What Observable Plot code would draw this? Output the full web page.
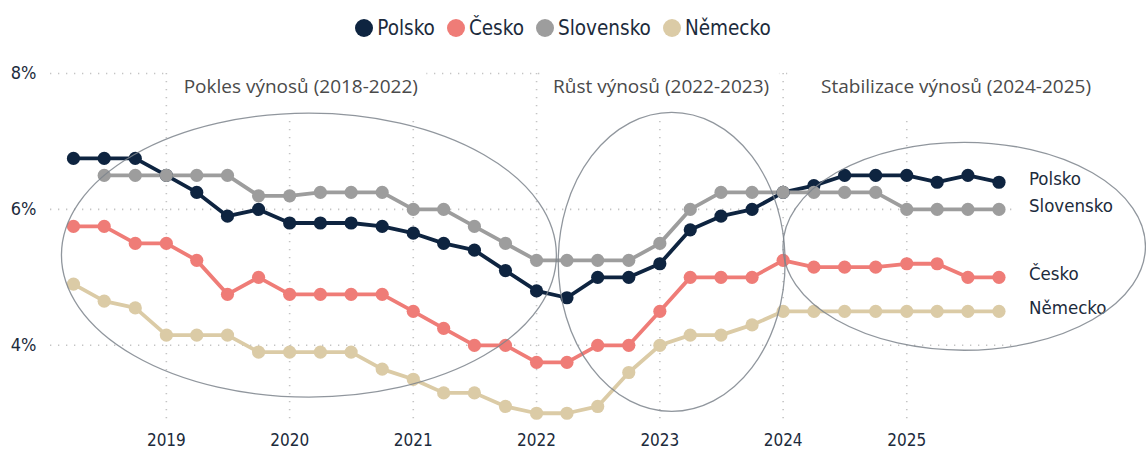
<!DOCTYPE html>
<html>
<head>
<meta charset="utf-8">
<script src="https://cdn.jsdelivr.net/npm/d3@7"></script>
<script src="https://cdn.jsdelivr.net/npm/@observablehq/plot@0.6"></script>
<style>
  html, body { margin: 0; padding: 0; background: #fff; }
  .cond { font-family: "DejaVu Sans Condensed", "DejaVu Sans", sans-serif; font-stretch: condensed; }
  #legend { height: 50px; display: flex; justify-content: center; align-items: center; color: #1c2b3c; font-size: 20.5px; padding-top: 6px; padding-right: 20px; box-sizing: border-box; }
  #legend .item { display: flex; align-items: center; margin: 0 6px; }
  #legend .sw { width: 18px; height: 18px; border-radius: 50%; margin-right: 4px; }
</style>
</head>
<body>
<div id="legend" class="cond"></div>
<div id="chart"></div>
<script>
// ---- data ----
const quarters = [
  "2018-04-01","2018-07-01","2018-10-01",
  "2019-01-01","2019-04-01","2019-07-01","2019-10-01",
  "2020-01-01","2020-04-01","2020-07-01","2020-10-01",
  "2021-01-01","2021-04-01","2021-07-01","2021-10-01",
  "2022-01-01","2022-04-01","2022-07-01","2022-10-01",
  "2023-01-01","2023-04-01","2023-07-01","2023-10-01",
  "2024-01-01","2024-04-01","2024-07-01","2024-10-01",
  "2025-01-01","2025-04-01","2025-07-01","2025-10-01"
];
const seriesNames = ["Polsko", "Česko", "Slovensko", "Německo"];
const polsko    = [6.75,6.75,6.75,6.5,6.25,5.9,6.0,5.8,5.8,5.8,5.75,5.65,5.5,5.4,5.1,4.8,4.7,5.0,5.0,5.2,5.7,5.9,6.0,6.25,6.35,6.5,6.5,6.5,6.4,6.5,6.4];
const cesko     = [5.75,5.75,5.5,5.5,5.25,4.75,5.0,4.75,4.75,4.75,4.75,4.5,4.25,4.0,4.0,3.75,3.75,4.0,4.0,4.5,5.0,5.0,5.0,5.25,5.15,5.15,5.15,5.2,5.2,5.0,5.0];
const slovensko = [null,6.5,6.5,6.5,6.5,6.5,6.2,6.2,6.25,6.25,6.25,6.0,6.0,5.75,5.5,5.25,5.25,5.25,5.25,5.5,6.0,6.25,6.25,6.25,6.25,6.25,6.25,6.0,6.0,6.0,6.0];
const nemecko   = [4.9,4.65,4.55,4.15,4.15,4.15,3.9,3.9,3.9,3.9,3.65,3.5,3.3,3.3,3.1,3.0,3.0,3.1,3.6,4.0,4.15,4.15,4.3,4.5,4.5,4.5,4.5,4.5,4.5,4.5,4.5];
const seriesColors = ["#0e2440", "#ef7c77", "#9d9d9d", "#dbcba6"];
const yTicks = [4, 6, 8];
const yearTicks = ["2019","2020","2021","2022","2023","2024","2025"];
// annotation: label, text centre (decimal year), box from/to (decimal year)
const annLabels = ["Pokles výnosů (2018-2022)", "Růst výnosů (2022-2023)", "Stabilizace výnosů (2024-2025)"];
const annCenters = [2020.09, 2023.01, 2025.40];
const annBoxFrom = [2019.03, 2022.06, 2024.04];
const annBoxTo   = [2021.11, 2023.97, 2026.5];
// ellipses: centre year, centre %, radius in years, radius in %
const ellCx = [2020.16, 2023.10, 2025.47];
const ellCy = [5.32, 5.22, 5.45];
const ellRx = [2.005, 0.92, 1.47];
const ellRy = [2.09, 2.2, 1.53];

// ---- build ----
const seriesValues = [polsko, cesko, slovensko, nemecko];
const parse = d3.utcParse("%Y-%m-%d");
const dec = (y) => { const yr = Math.floor(y); const s = Date.UTC(yr,0,1), e = Date.UTC(yr+1,0,1); return new Date(s + (y-yr)*(e-s)); };
const rows = [];
seriesNames.forEach((name, si) => {
  quarters.forEach((q, qi) => {
    const v = seriesValues[si][qi];
    if (v != null) rows.push({series: name, date: parse(q), value: v});
  });
});
const lastRows = seriesNames.map((name) => { const r = rows.filter(d => d.series === name); return r[r.length-1]; });
const annRows = annLabels.map((t, i) => ({text: t, x: dec(annCenters[i]), x1: dec(annBoxFrom[i]), x2: dec(annBoxTo[i])}));
const ellRows = ellCx.map((c, i) => ({cx: c, cy: ellCy[i], rx: ellRx[i], ry: ellRy[i]}));

// legend
const legend = document.getElementById("legend");
seriesNames.forEach((n, i) => {
  const it = document.createElement("div"); it.className = "item";
  const sw = document.createElement("div"); sw.className = "sw"; sw.style.background = seriesColors[i];
  const tx = document.createElement("span"); tx.textContent = n;
  it.appendChild(sw); it.appendChild(tx); legend.appendChild(it);
});

const condFont = '"DejaVu Sans Condensed", "DejaVu Sans", sans-serif';
const ellipseMark = (index, scales) => {
  const g = d3.create("svg:g");
  ellRows.forEach(e => {
    const cx = scales.x(dec(e.cx)), cy = scales.y(e.cy);
    const rx = scales.x(dec(e.cx + e.rx)) - cx;
    const ry = cy - scales.y(e.cy + e.ry);
    g.append("ellipse").attr("cx", cx).attr("cy", cy).attr("rx", rx).attr("ry", ry)
      .attr("fill", "none").attr("stroke", "#7d848c").attr("stroke-width", 1.3).attr("stroke-opacity", 0.85);
  });
  return g.node();
};

const chart = Plot.plot({
  width: 1146,
  height: 400,
  marginLeft: 50,
  marginRight: 133,
  marginTop: 23,
  marginBottom: 25,
  style: {fontFamily: condFont, fontStretch: "condensed", color: "#1c2b3c", background: "#fff", overflow: "visible"},
  x: {type: "utc", domain: [new Date(Date.UTC(2018,0,23)), new Date(Date.UTC(2025,10,13))], label: null},
  y: {domain: [2.82, 8], label: null},
  color: {domain: seriesNames, range: seriesColors},
  marks: [
    Plot.ruleY(yTicks, {stroke: "#c4c4c4", strokeWidth: 1.6, strokeDasharray: "1.3,6.7"}),
    Plot.ruleX(yearTicks.map(y => parse(y + "-01-01")), {stroke: "#c4c4c4", strokeWidth: 1.6, strokeDasharray: "1.3,6.7"}),
    Plot.rect(annRows, {x1: "x1", x2: "x2", y1: 7.38, y2: 8.06, fill: "white"}),
    Plot.text(annRows, {x: "x", y: 7.8, text: "text", fontSize: 19, fill: "#4a4a4a", fontFamily: '"Open Sans", "Noto Sans", sans-serif'}),
    Plot.axisY({ticks: yTicks, tickFormat: d => d + "%", tickSize: 0, tickPadding: 14, fontSize: 18, fill: "#1c2b3c", label: null}),
    Plot.axisX({ticks: yearTicks.map(y => parse(y + "-01-01")), tickFormat: "%Y", tickSize: 0, tickPadding: 8, fontSize: 17, fill: "#1c2b3c", label: null}),
    Plot.line(rows, {x: "date", y: "value", z: "series", stroke: "series", strokeWidth: 3.8}),
    Plot.dot(rows, {x: "date", y: "value", fill: "series", r: 6.6}),
    Plot.text(lastRows, {x: "date", y: "value", text: "series", dx: 30, dy: -3, textAnchor: "start", fontSize: 18.5, fill: "#1c2b3c"}),
    ellipseMark
  ]
});
d3.select(chart).selectAll("text").filter(function() { return annLabels.includes(this.textContent); })
  .style("font-stretch", "normal");
document.getElementById("chart").appendChild(chart);
</script>
</body>
</html>
